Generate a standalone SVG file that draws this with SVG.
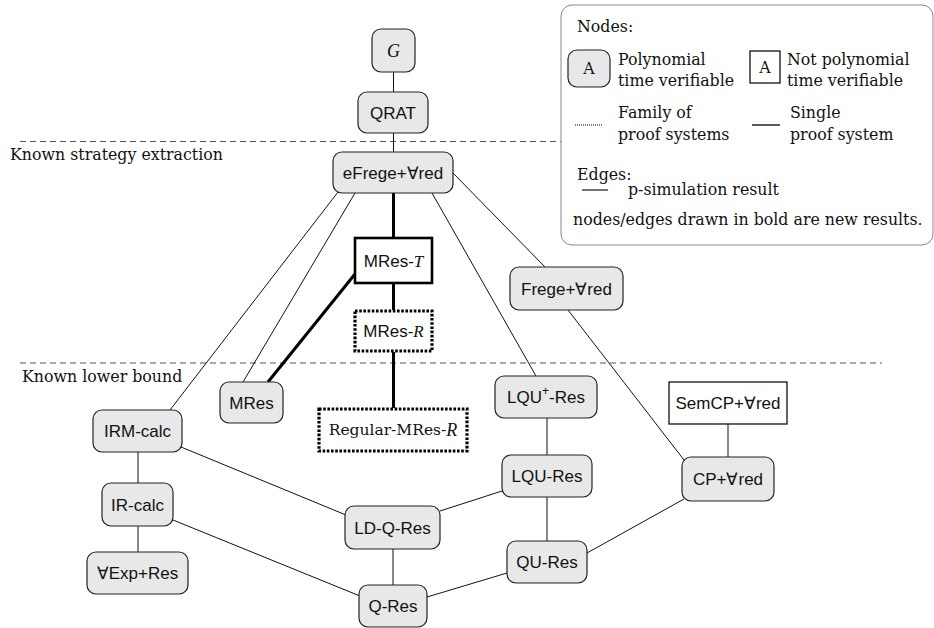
<svg xmlns="http://www.w3.org/2000/svg" width="934" height="628" viewBox="0 0 934 628">
<style>
.n{fill:#e8e8e8;stroke:#222;stroke-width:1.2}
.sq{fill:#fff;stroke:#111;stroke-width:1.3}
.sqb{fill:#fff;stroke:#000;stroke-width:2.6}
.dot{fill:#fff;stroke:#000;stroke-width:3.2;stroke-dasharray:2.6 1.6}
.t{font-family:"Liberation Sans",Arial,sans-serif;font-size:17px;fill:#111;text-anchor:middle;dominant-baseline:central}
.s{font-family:"DejaVu Serif","Liberation Serif",serif;font-size:15.8px;fill:#111}
.ms{font-family:"Liberation Serif",serif;font-style:italic}
.e{stroke:#111;stroke-width:1;fill:none}
.eb{stroke:#000;stroke-width:3;fill:none}
.dash{stroke:#555;stroke-width:1.2;stroke-dasharray:6 4}
</style>
<line class="dash" x1="20" y1="141.5" x2="561" y2="141.5"/>
<line class="dash" x1="20" y1="363" x2="882" y2="363" stroke="#777"/>
<text class="s" x="10" y="160">Known strategy extraction</text>
<text class="s" x="22" y="382">Known lower bound</text>
<g id="legend">
<rect x="561" y="5" width="372" height="240" rx="11" fill="#fff" stroke="#888" stroke-width="1"/>
<text class="s" x="577" y="32">Nodes:</text>
<rect class="n" x="568" y="50" width="42" height="37" rx="9"/>
<text class="s" x="589" y="74" text-anchor="middle">A</text>
<text class="s" x="618" y="65">Polynomial</text>
<text class="s" x="618" y="86">time verifiable</text>
<rect class="sq" x="750" y="51" width="30" height="32"/>
<text class="s" x="765" y="73" text-anchor="middle">A</text>
<text class="s" x="787" y="65">Not polynomial</text>
<text class="s" x="787" y="86">time verifiable</text>
<line x1="575" y1="125" x2="602" y2="125" stroke="#000" stroke-width="1.2" stroke-dasharray="1 1"/>
<text class="s" x="618" y="118">Family of</text>
<text class="s" x="618" y="140">proof systems</text>
<line x1="752" y1="125" x2="780" y2="125" stroke="#000" stroke-width="1.3"/>
<text class="s" x="790" y="118">Single</text>
<text class="s" x="790" y="140">proof system</text>
<text class="s" x="577" y="180">Edges:</text>
<line x1="582" y1="190" x2="608" y2="190" stroke="#000" stroke-width="1.1"/>
<text class="s" x="628" y="195">p-simulation result</text>
<text class="s" x="573" y="225">nodes/edges drawn in bold are new results.</text>
</g>
<g id="edges">
<line class="e" x1="393.5" y1="72" x2="393.5" y2="92"/>
<line class="e" x1="393.5" y1="133" x2="393.5" y2="152"/>
<line class="eb" x1="393.5" y1="193" x2="393.5" y2="238"/>
<line class="eb" x1="393.5" y1="283" x2="393.5" y2="310"/>
<line class="eb" x1="393.5" y1="352" x2="393.5" y2="408"/>
<line class="eb" x1="355" y1="274" x2="268" y2="382"/>
<line class="e" x1="338" y1="192" x2="170" y2="410"/>
<line class="e" x1="355" y1="193" x2="243" y2="382"/>
<line class="e" x1="432" y1="193" x2="536" y2="376"/>
<line class="e" x1="452" y1="172" x2="545" y2="267"/>
<line class="e" x1="568" y1="310" x2="684" y2="460"/>
<line class="e" x1="728" y1="424" x2="728" y2="457"/>
<line class="e" x1="138" y1="452" x2="138" y2="483"/>
<line class="e" x1="138" y1="526" x2="138" y2="552"/>
<line class="e" x1="181" y1="447" x2="346" y2="515"/>
<line class="e" x1="173" y1="520" x2="360" y2="596"/>
<line class="e" x1="393" y1="549" x2="393" y2="585"/>
<line class="e" x1="440" y1="511" x2="502" y2="491"/>
<line class="e" x1="547" y1="418" x2="547" y2="455"/>
<line class="e" x1="547" y1="497" x2="547" y2="541"/>
<line class="e" x1="507" y1="573" x2="427" y2="597"/>
<line class="e" x1="587" y1="553" x2="684" y2="499"/>
</g>
<g id="G"><rect class="n" x="372" y="29" width="43" height="43" rx="9"/><text class="t ms" x="393.5" y="51" style="font-size:18px">G</text></g>
<g id="QRAT"><rect class="n" x="358" y="92" width="70" height="41" rx="9"/><text class="t" x="393" y="113">QRAT</text></g>
<g id="eFrege"><rect class="n" x="333" y="152" width="120" height="41" rx="9"/><text class="t" x="393" y="173">eFrege+∀red</text></g>
<g id="MResT"><rect class="sqb" x="355" y="238" width="77" height="45"/><text class="t" x="393.5" y="261">MRes-<tspan class="ms">T</tspan></text></g>
<g id="MResR"><rect class="dot" x="355" y="311" width="77" height="40"/><text class="t" x="393.5" y="331">MRes-<tspan class="ms">R</tspan></text></g>
<g id="RegMResR"><rect class="dot" x="319" y="409" width="148" height="42"/><text class="t" x="393" y="430" style="font-family:'DejaVu Serif','Liberation Serif',serif;font-size:15.5px">Regular-MRes-<tspan class="ms" style="font-size:18px">R</tspan></text></g>
<g id="MRes"><rect class="n" x="220" y="382" width="63" height="41" rx="9"/><text class="t" x="251.5" y="403">MRes</text></g>
<g id="Frege"><rect class="n" x="510" y="267" width="113" height="43" rx="9"/><text class="t" x="566.5" y="289">Frege+∀red</text></g>
<g id="IRM"><rect class="n" x="93" y="410" width="89" height="42" rx="9"/><text class="t" x="137.5" y="431">IRM-calc</text></g>
<g id="IR"><rect class="n" x="102" y="483" width="71" height="43" rx="9"/><text class="t" x="137.5" y="505">IR-calc</text></g>
<g id="ExpRes"><rect class="n" x="87" y="552" width="101" height="42" rx="9"/><text class="t" x="137.5" y="573">∀Exp+Res</text></g>
<g id="LQUplus"><rect class="n" x="495" y="376" width="102" height="42" rx="9"/><text class="t" x="546" y="397">LQU<tspan dy="-6" style="font-size:12px">+</tspan><tspan dy="6">-Res</tspan></text></g>
<g id="LQU"><rect class="n" x="502" y="455" width="90" height="42" rx="9"/><text class="t" x="547" y="476">LQU-Res</text></g>
<g id="LDQ"><rect class="n" x="345" y="506" width="95" height="43" rx="9"/><text class="t" x="392.5" y="528">LD-Q-Res</text></g>
<g id="QU"><rect class="n" x="507" y="541" width="80" height="42" rx="9"/><text class="t" x="547" y="562">QU-Res</text></g>
<g id="QRes"><rect class="n" x="359" y="585" width="68" height="42" rx="9"/><text class="t" x="393" y="606">Q-Res</text></g>
<g id="SemCP"><rect class="sq" x="669" y="382" width="118" height="42"/><text class="t" x="728" y="403">SemCP+∀red</text></g>
<g id="CP"><rect class="n" x="682" y="457" width="92" height="44" rx="9"/><text class="t" x="728" y="479">CP+∀red</text></g>
</svg>
